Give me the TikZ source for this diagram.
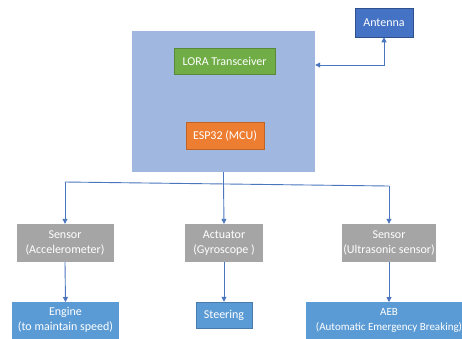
\documentclass[tikz,border=0pt]{standalone}
\usepackage{fontspec}
\setmainfont{Carlito}
\usetikzlibrary{arrows.meta}
\definecolor{bigblue}{HTML}{A0B8E0}
\definecolor{lgreen}{HTML}{70AD47}
\definecolor{lorange}{HTML}{ED7D31}
\definecolor{dblue}{HTML}{4472C4}
\definecolor{mblue}{HTML}{5B9BD5}
\definecolor{lgray}{HTML}{A5A5A5}
\definecolor{lineblue}{HTML}{4A76BE}
\begin{document}
\begin{tikzpicture}[x=1pt,y=-1pt,
  box/.style={draw=none, inner sep=0pt, text=white, align=center, font=\fontsize{12}{15}\selectfont},
  conn/.style={draw=lineblue, line width=0.9pt},
  arr/.style={conn, -{Triangle[length=5pt,width=5pt]}}]
\useasboundingbox (0,0) rectangle (462,338);
\clip (0,0) rectangle (462,338);
\fill[white] (0,0) rectangle (462,338);
% main unit
\node[box, fill=bigblue, minimum width=183pt, minimum height=141pt] (unit) at (223.5,101.5) {};
\node[box, fill=lgreen, draw=lgreen!80!black, line width=0.5pt, minimum width=101pt, minimum height=26pt] (lora) at (224.5,61.5) {LORA Transceiver};
\node[box, fill=lorange, draw=lorange!80!black, line width=0.5pt, minimum width=78pt, minimum height=27pt] (esp) at (225,136) {ESP32 (MCU)};
\node[box, fill=dblue, draw=dblue!70!black, line width=0.5pt, minimum width=58pt, minimum height=29pt] (ant) at (384,22.5) {Antenna};
% gray boxes
\node[box, fill=lgray, minimum width=97pt, minimum height=38pt] (s1) at (65,243) {Sensor\\(Accelerometer)};
\node[box, fill=lgray, minimum width=78pt, minimum height=38pt] (s2) at (224,243) {Actuator\\(Gyroscope )};
\node[box, fill=lgray, minimum width=94pt, minimum height=38pt] (s3) at (389,243) {Sensor\\(Ultrasonic sensor)};
% bottom boxes
\node[box, fill=mblue, minimum width=107pt, minimum height=36pt, anchor=north] (eng) at (65.5,302) {Engine\\(to maintain speed)};
\fill[mblue] (eng.south west) rectangle ([yshift=-12pt]eng.south east);
\node[box, fill=mblue, draw=mblue!80!black, line width=0.5pt, minimum width=56pt, minimum height=26pt] (steer) at (224,315) {Steering};
\node[box, fill=mblue, minimum width=166pt, minimum height=36pt, anchor=north, font=\fontsize{11}{15}\selectfont] (aeb) at (389,302) {AEB\\(Automatic Emergency Breaking)};
\fill[mblue] (aeb.south west) rectangle ([yshift=-12pt]aeb.south east);
% antenna link
\coordinate (bend) at (ant.south |- 0,65);
\draw[conn, {Triangle[length=5pt,width=5pt]}-{Triangle[length=5pt,width=5pt]}] (ant.south) -- (bend) -- (unit.east |- bend);
% bus
\coordinate (busc) at (unit.south |- 0,183);
\coordinate (busl) at (s1.north |- 0,182);
\coordinate (busr) at (s3.north |- 0,186);
\draw[conn] (unit.south) -- (busc);
\draw[conn] (busl) -- (busr);
\draw[arr] (busl) -- (s1.north);
\draw[arr] (busc) -- (s2.north);
\draw[arr] (busr) -- (s3.north);
% lower arrows
\draw[arr] (s1.south) -- (eng.north);
\draw[arr] (s2.south) -- (steer.north);
\draw[arr] (s3.south) -- (aeb.north);
\end{tikzpicture}
\end{document}
